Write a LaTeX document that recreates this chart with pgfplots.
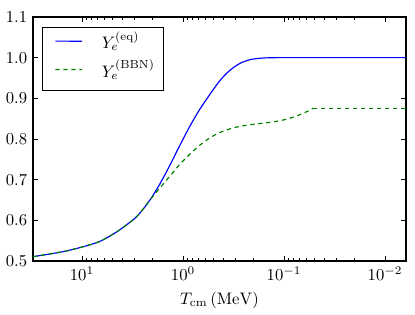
\documentclass[border=0pt]{standalone}
\usepackage{pgfplots}
\pgfplotsset{compat=1.18}
\definecolor{mplblue}{rgb}{0,0,1}
\definecolor{mplgreen}{rgb}{0,0.5,0}
\begin{document}
\begin{tikzpicture}
\begin{axis}[
  name=ax,
  scale only axis,
  width=223.8pt, height=146.4pt,
  xmode=log, x dir=reverse,
  xmin=0.0062, xmax=30.55,
  ymin=0.5, ymax=1.1,
  ytick={0.5,0.6,0.7,0.8,0.9,1.0,1.1},
  yticklabel style={/pgf/number format/fixed,/pgf/number format/fixed zerofill,/pgf/number format/precision=1},
  xtick={0.01,0.1,1,10},
  major tick length=3pt, minor tick length=1.6pt,
  tick style={line width=0.5pt, black},
  axis line style={line width=0.7pt},
  xlabel={$T_{\mathrm{cm}}\,(\mathrm{MeV})$},
  legend cell align=left,
  legend style={at={(0.024,0.959)}, anchor=north west,
    inner xsep=3pt, inner ysep=3.5pt, row sep=3pt,
    nodes={text height=8.5pt, text depth=3.5pt, inner ysep=1pt},
    /tikz/every odd column/.append style={column sep=8pt}},
  legend image code/.code={\path (0pt,0pt) (22pt,0pt);
    \draw[#1] (4.5pt,2.2pt) .. controls (9pt,2.21pt) and (16pt,2.19pt) .. (20.5pt,2.2pt);},
]
\addplot[color=mplblue, line width=0.7pt, smooth, tension=0.5] coordinates {
(30.55,0.5106) (19.95,0.518) (14.29,0.5246) (9.772,0.535) (6.683,0.548)
(4.571,0.571) (3.126,0.601) (2.666,0.618) (2.122,0.650) (1.690,0.690)
(1.345,0.736) (1.071,0.785) (0.8524,0.832) (0.6787,0.874) (0.5403,0.910)
(0.4302,0.944) (0.3425,0.969) (0.2727,0.986) (0.2171,0.995) (0.1728,0.9985)
(0.1376,0.9998) (0.11,1.0) (0.06,1.0) (0.03,1.0) (0.015,1.0) (0.0062,1.0)
};
\addlegendentry{$Y_e^{(\mathrm{eq})}$}
\addplot[color=mplgreen, line width=0.7pt, dash pattern=on 2.6pt off 2.2pt, smooth, tension=0.5] coordinates {
(30.55,0.5106) (19.95,0.518) (14.29,0.5246) (9.772,0.535) (6.683,0.548)
(4.571,0.571) (3.126,0.601) (2.666,0.618) (2.122,0.650) (1.690,0.680)
(1.345,0.709) (1.071,0.738) (0.8524,0.763) (0.6787,0.785) (0.5403,0.803)
(0.4302,0.816) (0.3425,0.825) (0.2727,0.831) (0.2171,0.835) (0.1728,0.838)
(0.1376,0.841) (0.1096,0.845) (0.0872,0.851) (0.0694,0.860) (0.0553,0.871)
(0.0516,0.876)
};
\addlegendentry{$Y_e^{(\mathrm{BBN})}$}
\addplot[color=mplgreen, line width=0.7pt, dash pattern=on 2.6pt off 2.2pt, smooth, tension=0.5, forget plot] coordinates {
(0.0516,0.876) (0.03,0.876) (0.015,0.876) (0.0062,0.876)
};
\end{axis}
\path ([xshift=-19.8pt,yshift=-30.6pt]ax.south west) rectangle ([xshift=5.4pt,yshift=10.2pt]ax.north east);
\end{tikzpicture}
\end{document}
